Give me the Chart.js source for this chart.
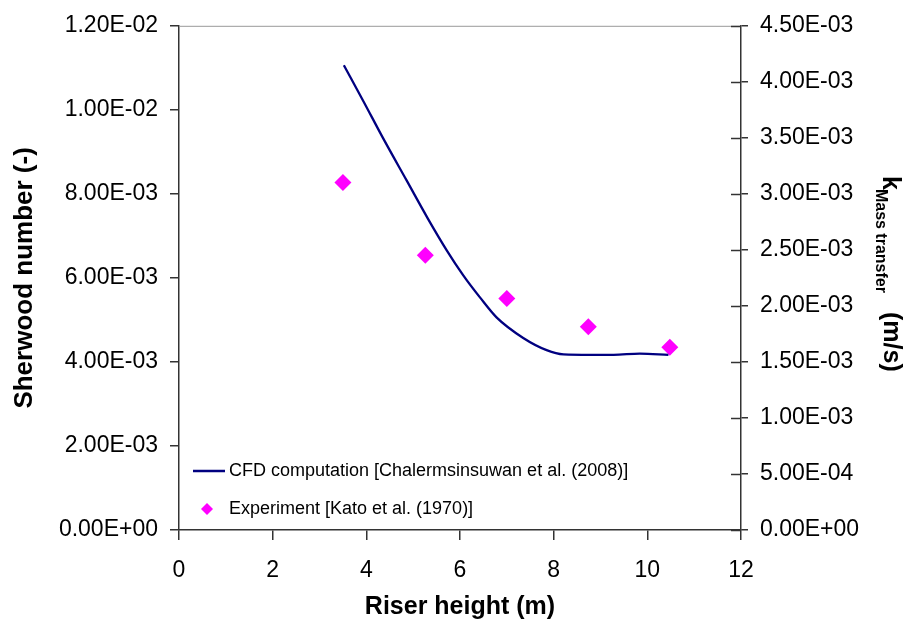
<!DOCTYPE html>
<html>
<head>
<meta charset="utf-8">
<script src="https://cdn.jsdelivr.net/npm/chart.js@4.4.0/dist/chart.umd.min.js"></script>
<style>
    body { margin: 0; background: #fff; }
</style>
</head>
<body>
<canvas id="sherwoodChart" width="909" height="625"></canvas>
<script>
// CFD curve
const cfdHeight = [3.52, 3.94, 4.36, 4.86, 5.32, 5.72, 6.07, 6.43, 6.78, 7.35, 7.85, 8.21, 8.78, 9.28, 9.84, 10.45];
const cfdSherwood = [0.01106, 0.01020, 0.00932, 0.00832, 0.00740, 0.00665, 0.00606, 0.00553, 0.00506, 0.00457, 0.00428, 0.00418, 0.00417, 0.00417, 0.00420, 0.00417];

// experiment points
const expHeight = [3.5, 5.26, 7.0, 8.74, 10.48];
const expSherwood = [0.00827, 0.00654, 0.00551, 0.00484, 0.00435];

const cfdLabel = 'CFD computation [Chalermsinsuwan et al. (2008)]';
const expLabel = 'Experiment [Kato et al. (1970)]';

const axisColor = '#333333';
const fontFamily = 'Arial, "Liberation Sans", sans-serif';
const tickFont = { family: fontFamily, size: 23 };

const sciFormat = (v) => {
    let s = Number(v).toExponential(2).toUpperCase();
    // E-3 -> E-03, E+0 -> E+00
    return s.replace(/E([+-])(\d)$/, 'E$10$2');
};

const toPoints = (xs, ys) => xs.map((x, i) => ({ x: x, y: ys[i] }));

// legend inside the plot, right axis title with subscript, top border, cross ticks
const extrasPlugin = {
    id: 'extras',
    afterDraw(chart) {
        const ctx = chart.ctx;
        const area = chart.chartArea;
        const ds = chart.data.datasets;
        ctx.save();

        // grey top border
        ctx.strokeStyle = '#999999';
        ctx.lineWidth = 1;
        ctx.beginPath();
        ctx.moveTo(area.left, area.top + 0.5);
        ctx.lineTo(area.right, area.top + 0.5);
        ctx.stroke();

        // inner half of the right axis ticks
        const y2 = chart.scales.y2;
        ctx.strokeStyle = axisColor;
        ctx.lineWidth = 1.5;
        y2.ticks.forEach((t) => {
            const py = Math.round(y2.getPixelForValue(t.value)) + 0.5;
            ctx.beginPath();
            ctx.moveTo(area.right - 10, py);
            ctx.lineTo(area.right, py);
            ctx.stroke();
        });

        // legend
        ctx.font = '18px ' + fontFamily;
        ctx.textBaseline = 'middle';
        ctx.fillStyle = '#000';
        ctx.strokeStyle = ds[0].borderColor;
        ctx.lineWidth = 2.5;
        ctx.beginPath();
        ctx.moveTo(193, 471);
        ctx.lineTo(225, 471);
        ctx.stroke();
        ctx.fillText(ds[0].label, 229, 471);

        ctx.fillStyle = ds[1].backgroundColor;
        ctx.beginPath();
        ctx.moveTo(207, 503);
        ctx.lineTo(213, 509);
        ctx.lineTo(207, 515);
        ctx.lineTo(201, 509);
        ctx.closePath();
        ctx.fill();
        ctx.fillStyle = '#000';
        ctx.fillText(ds[1].label, 229, 509);

        // right axis title: k_Mass transfer (m/s), rotated clockwise
        ctx.translate(883, 0);
        ctx.rotate(Math.PI / 2);
        ctx.textBaseline = 'alphabetic';
        ctx.font = 'bold 25px ' + fontFamily;
        ctx.fillText('k', 176, 0);
        const kw = ctx.measureText('k').width;
        ctx.font = 'bold 16px ' + fontFamily;
        ctx.fillText('Mass transfer', 175 + kw, 7);
        ctx.font = 'bold 25px ' + fontFamily;
        ctx.fillText('(m/s)', 312, -1);

        ctx.restore();
    }
};

const renderSherwoodChart = () => {
    const ctx = document.getElementById('sherwoodChart').getContext('2d');
    new Chart(ctx, {
        type: 'scatter',
        data: {
            datasets: [{
                label: cfdLabel,
                data: toPoints(cfdHeight, cfdSherwood),
                showLine: true,
                borderColor: '#000080',
                backgroundColor: '#000080',
                borderWidth: 2.3,
                pointRadius: 0,
                cubicInterpolationMode: 'monotone',
                yAxisID: 'y',
            }, {
                label: expLabel,
                data: toPoints(expHeight, expSherwood),
                showLine: false,
                pointStyle: 'rectRot',
                pointRadius: 8.5,
                borderWidth: 0,
                backgroundColor: '#FF00FF',
                borderColor: '#FF00FF',
                yAxisID: 'y',
            }],
        },
        options: {
            responsive: false,
            animation: false,
            layout: { padding: { top: 22, left: 0, right: 0, bottom: 0 } },
            plugins: {
                legend: { display: false },
                tooltip: { enabled: false },
            },
            scales: {
                x: {
                    type: 'linear',
                    min: 0,
                    max: 12,
                    ticks: { stepSize: 2, color: '#000', font: tickFont, padding: 17 },
                    grid: { drawOnChartArea: false, tickLength: 10, color: axisColor, lineWidth: 1.5 },
                    border: { color: axisColor, width: 1.5 },
                    title: {
                        display: true,
                        text: 'Riser height (m)',
                        color: '#000',
                        font: { family: fontFamily, size: 25, weight: 'bold' },
                        padding: { top: 0, bottom: 3 },
                    },
                    afterFit: (scale) => { scale.height = 95; },
                },
                y: {
                    position: 'left',
                    min: 0,
                    max: 0.012,
                    ticks: { stepSize: 0.002, color: '#000', font: tickFont, padding: 12, callback: sciFormat },
                    grid: { drawOnChartArea: false, tickLength: 9, color: axisColor, lineWidth: 1.5 },
                    border: { color: axisColor, width: 1.5 },
                    title: {
                        display: true,
                        text: 'Sherwood number (-)',
                        color: '#000',
                        font: { family: fontFamily, size: 26, weight: 'bold' },
                        padding: { top: 9, bottom: 0 },
                    },
                    afterFit: (scale) => { scale.width = 179; },
                },
                y2: {
                    position: 'right',
                    min: 0,
                    max: 0.0045,
                    ticks: { stepSize: 0.0005, color: '#000', font: tickFont, padding: 12, callback: sciFormat },
                    grid: { drawOnChartArea: false, tickLength: 7, color: axisColor, lineWidth: 1.5 },
                    border: { color: axisColor, width: 1.5 },
                    afterFit: (scale) => { scale.width = 168; },
                },
            },
        },
        plugins: [extrasPlugin],
    });
};

window.addEventListener('load', renderSherwoodChart);
</script>
</body>
</html>
